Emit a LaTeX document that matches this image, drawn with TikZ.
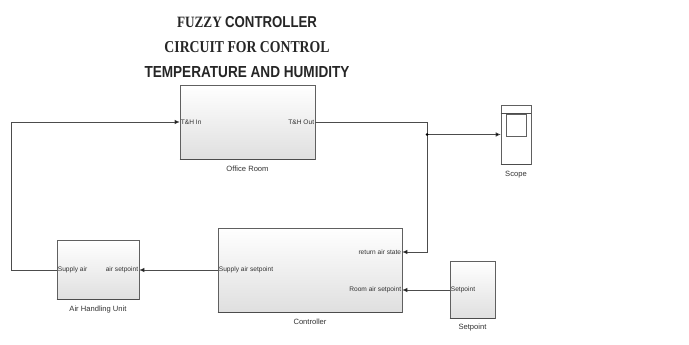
\documentclass[tikz,border=0pt]{standalone}
\usepackage{fontspec}
\setmainfont{Liberation Sans}
\newfontfamily\ttlserif{Liberation Serif}
\newfontfamily\ttlsans{Liberation Sans}
\usetikzlibrary{arrows.meta,calc}
\tikzset{
  blk/.style={rectangle, draw=gray!75!black, line width=0.6pt, top color=white, bottom color=gray!25, inner sep=0pt},
  conn/.style={draw=gray!60!black, line width=0.6pt, -{Latex[length=5pt,width=4.5pt,fill=black]}},
  wire/.style={draw=gray!60!black, line width=0.6pt},
  port/.style={font=\fontsize{6.6}{7}\selectfont, text=black!80, inner sep=1pt},
  capt/.style={font=\fontsize{7.6}{8}\selectfont, text=black!80, inner sep=0pt},
  ttl/.style={text=black!85, inner sep=0pt},
  shadowline/.style={draw=gray!60!black, line width=1.3pt}
}
\begin{document}
\begin{tikzpicture}[x=1pt,y=-1pt]
\useasboundingbox (0,0) rectangle (689,345);
\fill[white] (0,0) rectangle (689,345);

% title
\node[ttl] (t1) at (247,22) {\resizebox{140pt}{11pt}{\bfseries\ttlserif FUZZY \ttlsans CONTROLLER}};
\node[ttl] (t2) at (247,47) {\resizebox{165pt}{11pt}{\bfseries\ttlserif CIRCUIT FOR CONTROL}};
\node[ttl] (t3) at (247,72) {\resizebox{205pt}{11pt}{\bfseries\ttlsans TEMPERATURE AND HUMIDITY}};

% blocks
\node[blk, minimum width=135pt, minimum height=74pt] (or) at (247.5,122) {};
\node[blk, minimum width=30pt, minimum height=59pt, top color=white, bottom color=white] (sc) at (516,134.5) {};
\node[blk, minimum width=184pt, minimum height=84pt] (ct) at (310,270) {};
\node[blk, minimum width=45pt, minimum height=57pt] (sp) at (472.5,290) {};
\node[blk, minimum width=82pt, minimum height=59pt] (ahu) at (98,270) {};

% bottom shadows
\draw[shadowline] (or.south west) -- (or.south east);
\draw[shadowline] (sc.south west) -- (sc.south east);
\draw[shadowline] (ct.south west) -- (ct.south east);
\draw[shadowline] (sp.south west) -- (sp.south east);
\draw[shadowline] (ahu.south west) -- (ahu.south east);

% scope details
\coordinate (scb1) at ($(sc.north west)+(0,9)$);
\coordinate (scb2) at ($(sc.north east)+(0,9)$);
\draw[wire] (scb1) -- (scb2);
\node[draw=gray!75!black, line width=0.6pt, minimum width=20pt, minimum height=22pt, inner sep=0pt] (scr) at (516,125) {};

% captions
\node[capt] (cor) at (247.5,169) {Office Room};
\node[capt] (csc) at (516,175) {Scope};
\node[capt] (cct) at (310,322) {Controller};
\node[capt] (csp) at (472.5,328) {Setpoint};
\node[capt] (cahu) at (98,310) {Air Handling Unit};

% port labels
\node[port, anchor=west] (pin) at (or.west) {T\&H In};
\node[port, anchor=east] (pout) at (or.east) {T\&H Out};
\coordinate (ctra) at ($(ct.east)+(0,-18)$);
\coordinate (ctrs) at ($(ct.east)+(0,20)$);
\node[port, anchor=east] (lra) at (ctra) {return air state};
\node[port, anchor=east] (lrs) at (ctrs) {Room air setpoint};
\node[port, anchor=west] (lsa) at (ct.west) {Supply air setpoint};
\node[port, anchor=west] (lsp) at (sp.west) {Setpoint};
\node[port, anchor=west] (lah1) at (ahu.west) {Supply air};
\node[port, anchor=east] (lah2) at (ahu.east) {air setpoint};

% connectors
\coordinate (c1) at (427,122);
\coordinate (jn) at (427,134.5);
\coordinate (fb) at (11,270);
\draw[wire] (or.east) -- (c1) -- (jn);
\draw[conn] (jn) |- (ctra);
\draw[conn] (jn) -- (sc.west);
\fill (jn) circle (1.5pt);
\draw[conn] (sp.west) -- (ctrs);
\draw[conn] (ct.west) -- (ahu.east);
\draw[conn] (ahu.west) -- (fb) |- (or.west);
\end{tikzpicture}
\end{document}
